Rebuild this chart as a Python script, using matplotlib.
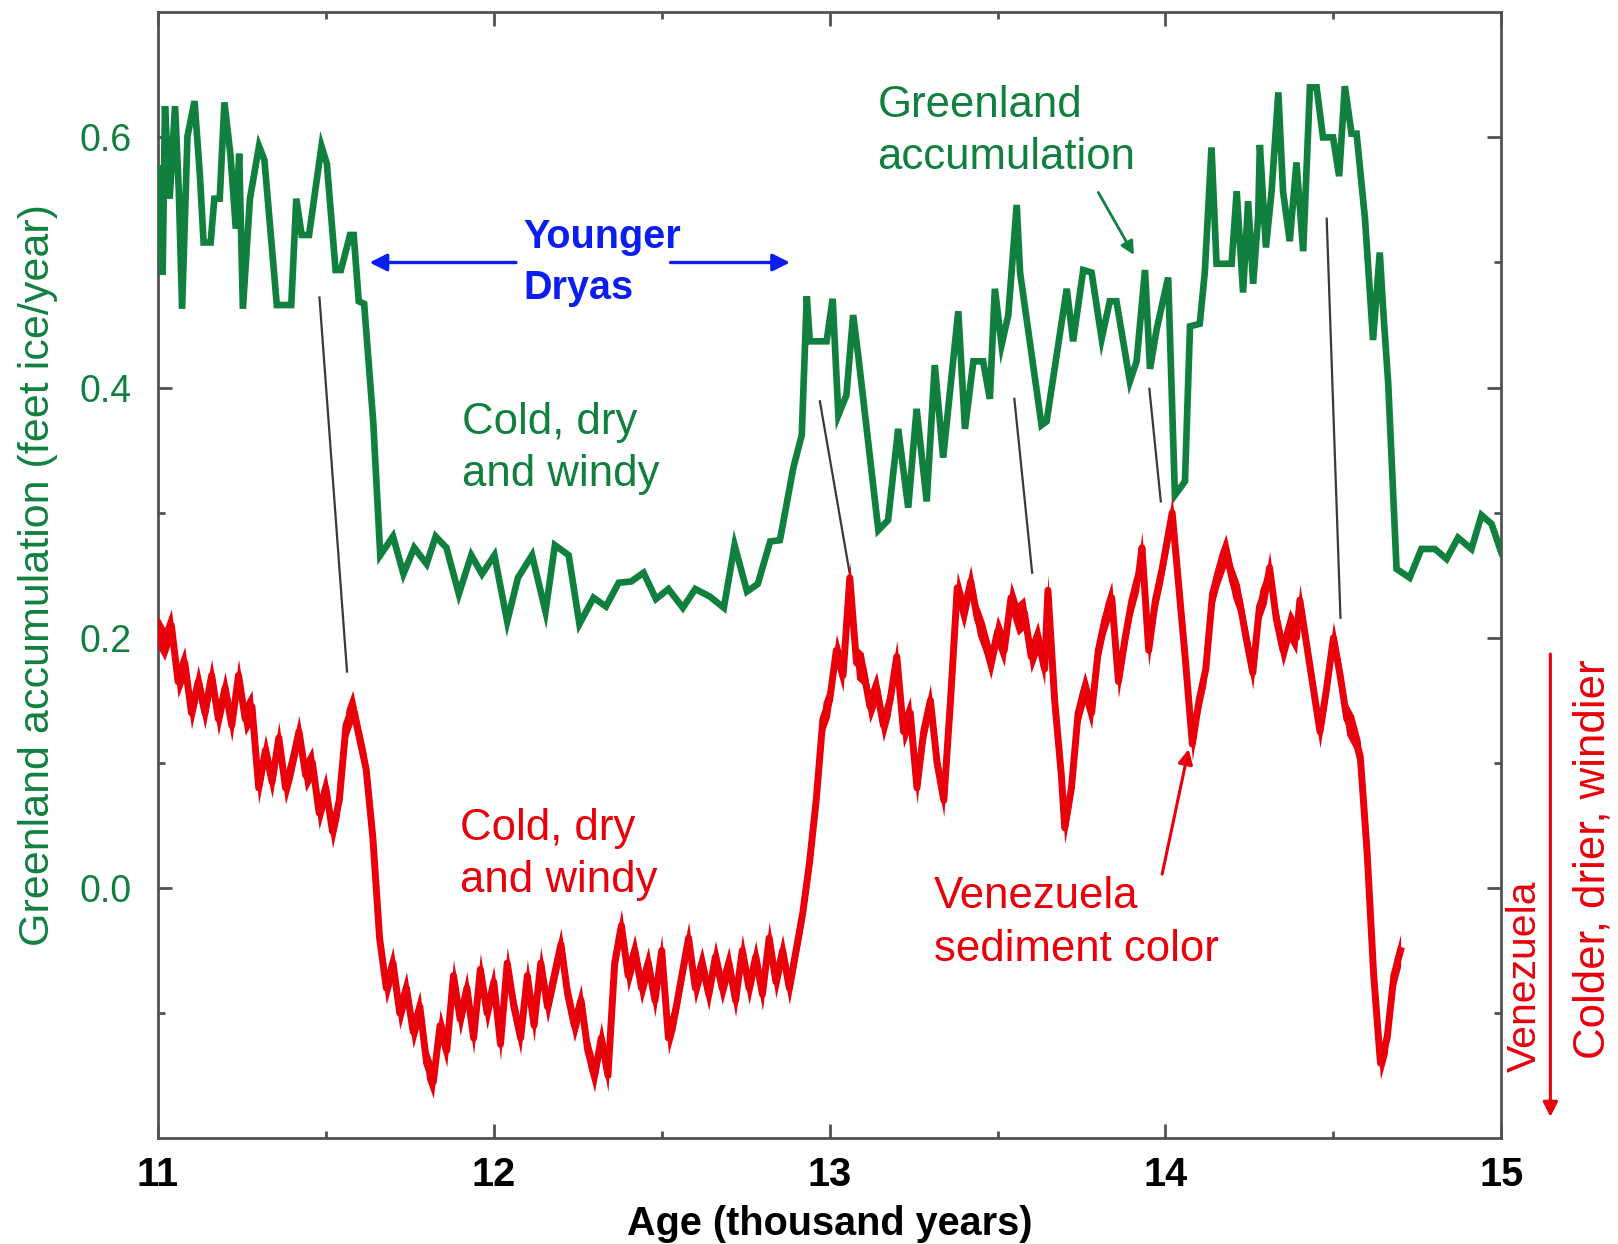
import matplotlib
matplotlib.use('Agg')
import matplotlib.pyplot as plt
import numpy as np

plt.rcParams['font.family'] = 'Liberation Sans'

# Greenland ice accumulation (feet ice/year) against age (kyr)
green_age = [11.000, 11.014, 11.021, 11.035, 11.051, 11.062, 11.072, 11.088, 11.109, 11.125,
             11.136, 11.157, 11.168, 11.184, 11.198, 11.216, 11.232, 11.242, 11.253, 11.274,
             11.301, 11.317, 11.354, 11.397, 11.412, 11.428, 11.450, 11.487, 11.503, 11.529,
             11.545, 11.572, 11.583, 11.598, 11.614, 11.641, 11.662, 11.700, 11.731, 11.763,
             11.800, 11.827, 11.859, 11.896, 11.933, 11.965, 12.002, 12.040, 12.072, 12.114,
             12.154, 12.182, 12.223, 12.255, 12.297, 12.334, 12.372, 12.409, 12.446, 12.483,
             12.520, 12.563, 12.600, 12.643, 12.685, 12.717, 12.754, 12.786, 12.823, 12.852,
             12.892, 12.917, 12.932, 12.941, 12.991, 13.009, 13.026, 13.050, 13.070, 13.085,
             13.145, 13.174, 13.204, 13.234, 13.259, 13.289, 13.313, 13.338, 13.383, 13.403,
             13.428, 13.457, 13.477, 13.492, 13.512, 13.532, 13.557, 13.567, 13.631, 13.646,
             13.706, 13.725, 13.755, 13.780, 13.810, 13.834, 13.854, 13.894, 13.914, 13.939,
             13.954, 13.974, 14.008, 14.028, 14.058, 14.073, 14.102, 14.117, 14.137, 14.152,
             14.197, 14.212, 14.231, 14.246, 14.261, 14.276, 14.281, 14.299, 14.316, 14.336,
             14.350, 14.370, 14.390, 14.410, 14.430, 14.450, 14.469, 14.499, 14.517, 14.534,
             14.554, 14.569, 14.594, 14.618, 14.638, 14.648, 14.663, 14.688, 14.727, 14.762,
             14.802, 14.837, 14.871, 14.911, 14.941, 14.971, 15.000]
green_acc = [0.575, 0.490, 0.625, 0.551, 0.625, 0.559, 0.463, 0.601, 0.629, 0.570,
             0.516, 0.516, 0.551, 0.551, 0.628, 0.586, 0.527, 0.587, 0.463, 0.551,
             0.593, 0.582, 0.466, 0.466, 0.551, 0.522, 0.522, 0.593, 0.579, 0.494,
             0.494, 0.522, 0.522, 0.469, 0.467, 0.373, 0.266, 0.281, 0.251, 0.272,
             0.259, 0.281, 0.272, 0.235, 0.266, 0.251, 0.266, 0.213, 0.248, 0.266,
             0.221, 0.274, 0.266, 0.211, 0.232, 0.225, 0.244, 0.245, 0.252, 0.231,
             0.239, 0.224, 0.239, 0.233, 0.224, 0.274, 0.237, 0.243, 0.277, 0.278,
             0.336, 0.362, 0.473, 0.437, 0.437, 0.471, 0.378, 0.394, 0.458, 0.426,
             0.286, 0.294, 0.367, 0.304, 0.383, 0.309, 0.418, 0.344, 0.461, 0.367,
             0.421, 0.421, 0.391, 0.479, 0.434, 0.458, 0.546, 0.492, 0.370, 0.373,
             0.479, 0.437, 0.494, 0.492, 0.439, 0.469, 0.469, 0.405, 0.421, 0.494,
             0.415, 0.447, 0.488, 0.314, 0.325, 0.449, 0.451, 0.492, 0.592, 0.499,
             0.499, 0.557, 0.476, 0.549, 0.483, 0.537, 0.594, 0.512, 0.557, 0.636,
             0.557, 0.517, 0.580, 0.509, 0.640, 0.640, 0.600, 0.600, 0.569, 0.641,
             0.603, 0.603, 0.535, 0.438, 0.508, 0.463, 0.404, 0.255, 0.248, 0.271,
             0.271, 0.263, 0.280, 0.271, 0.298, 0.291, 0.268]

# Venezuela sediment colour, scaled onto the same axis
ven_age = [11.00, 11.02, 11.04, 11.06, 11.08, 11.10, 11.12, 11.14, 11.16, 11.18,
           11.20, 11.22, 11.24, 11.26, 11.28, 11.30, 11.32, 11.34, 11.36, 11.38,
           11.40, 11.42, 11.44, 11.46, 11.48, 11.50, 11.52, 11.54, 11.56, 11.58,
           11.60, 11.62, 11.64, 11.66, 11.68, 11.70, 11.72, 11.74, 11.76, 11.78,
           11.80, 11.82, 11.84, 11.86, 11.88, 11.90, 11.92, 11.94, 11.96, 11.98,
           12.00, 12.02, 12.04, 12.06, 12.08, 12.10, 12.12, 12.14, 12.16, 12.18,
           12.20, 12.22, 12.24, 12.26, 12.28, 12.30, 12.32, 12.34, 12.36, 12.38,
           12.40, 12.42, 12.44, 12.46, 12.48, 12.50, 12.52, 12.54, 12.56, 12.58,
           12.60, 12.62, 12.64, 12.66, 12.68, 12.70, 12.72, 12.74, 12.76, 12.78,
           12.80, 12.82, 12.84, 12.86, 12.88, 12.90, 12.92, 12.94, 12.96, 12.98,
           13.00, 13.02, 13.04, 13.06, 13.08, 13.10, 13.12, 13.14, 13.16, 13.18,
           13.20, 13.22, 13.24, 13.26, 13.28, 13.30, 13.32, 13.34, 13.36, 13.38,
           13.40, 13.42, 13.44, 13.46, 13.48, 13.50, 13.52, 13.54, 13.56, 13.58,
           13.60, 13.62, 13.64, 13.65, 13.67, 13.69, 13.70, 13.72, 13.74, 13.76,
           13.78, 13.80, 13.82, 13.84, 13.86, 13.88, 13.90, 13.92, 13.93, 13.95,
           13.97, 13.99, 14.02, 14.04, 14.06, 14.08, 14.10, 14.12, 14.14, 14.16,
           14.18, 14.20, 14.22, 14.24, 14.26, 14.28, 14.30, 14.31, 14.33, 14.35,
           14.37, 14.39, 14.40, 14.42, 14.44, 14.46, 14.48, 14.50, 14.52, 14.54,
           14.56, 14.58, 14.60, 14.62, 14.64, 14.66, 14.68, 14.70]
ven_col = [0.205, 0.195, 0.210, 0.165, 0.180, 0.140, 0.165, 0.140, 0.170, 0.135,
           0.160, 0.130, 0.170, 0.135, 0.145, 0.080, 0.110, 0.085, 0.120, 0.080,
           0.100, 0.125, 0.090, 0.100, 0.060, 0.080, 0.045, 0.070, 0.130, 0.145,
           0.120, 0.095, 0.040, -0.040, -0.080, -0.060, -0.100, -0.080, -0.115, -0.095,
           -0.140, -0.155, -0.110, -0.130, -0.070, -0.105, -0.080, -0.120, -0.065, -0.100,
           -0.075, -0.125, -0.060, -0.095, -0.120, -0.070, -0.110, -0.060, -0.095, -0.070,
           -0.045, -0.085, -0.110, -0.090, -0.130, -0.150, -0.120, -0.150, -0.060, -0.030,
           -0.070, -0.050, -0.080, -0.060, -0.090, -0.050, -0.120, -0.100, -0.070, -0.040,
           -0.080, -0.060, -0.085, -0.055, -0.080, -0.060, -0.090, -0.050, -0.080, -0.055,
           -0.085, -0.040, -0.075, -0.050, -0.080, -0.050, -0.020, 0.020, 0.070, 0.135,
           0.150, 0.190, 0.170, 0.248, 0.180, 0.175, 0.145, 0.160, 0.130, 0.150,
           0.185, 0.125, 0.140, 0.080, 0.125, 0.150, 0.100, 0.070, 0.150, 0.240,
           0.220, 0.245, 0.215, 0.200, 0.180, 0.205, 0.190, 0.232, 0.215, 0.220,
           0.185, 0.200, 0.175, 0.238, 0.150, 0.090, 0.048, 0.080, 0.140, 0.160,
           0.140, 0.190, 0.215, 0.232, 0.165, 0.200, 0.230, 0.250, 0.272, 0.190,
           0.230, 0.255, 0.300, 0.240, 0.180, 0.115, 0.150, 0.175, 0.235, 0.255,
           0.270, 0.245, 0.230, 0.200, 0.172, 0.225, 0.240, 0.256, 0.215, 0.190,
           0.210, 0.200, 0.230, 0.195, 0.160, 0.125, 0.160, 0.200, 0.170, 0.135,
           0.125, 0.105, 0.030, -0.070, -0.140, -0.120, -0.070, -0.050]
# half width of the high-frequency scatter around the colour curve
ven_spread = 0.013

# lines tying matching events in the two records: (age, value) pairs
ties = [((11.481, 0.472), (11.563, 0.173)),
        ((12.971, 0.389), (13.060, 0.251)),
        ((13.550, 0.391), (13.603, 0.252)),
        ((13.952, 0.399), (13.986, 0.309)),
        ((14.480, 0.535), (14.521, 0.216))]

GREEN = '#11803f'
RED = '#e8000b'
BLUE = '#0a1ef0'
AXC = '#555055'

fig = plt.figure(figsize=(16.18, 12.44), dpi=100)
ax = fig.add_axes([0.0976, 0.0851, 0.8303, 0.9050])

ax.plot(green_age, green_acc, color=GREEN, lw=4.8, solid_joinstyle='miter', zorder=3)
vc = np.array(ven_col)
ax.fill_between(ven_age, vc - ven_spread, vc + ven_spread, color=RED, lw=0, zorder=3)
ax.plot(ven_age, ven_col, color=RED, lw=5.0, solid_joinstyle='round', zorder=3)
for (x0, y0), (x1, y1) in ties:
    ax.plot([x0, x1], [y0, y1], color='#3c3838', lw=1.6, zorder=2)

ax.set_xlim(11, 15)
ax.set_ylim(-0.2, 0.7)
ax.set_xticks([11, 12, 13, 14, 15])
ax.set_xticks([11.5, 12.5, 13.5, 14.5], minor=True)
ax.set_yticks([0.0, 0.2, 0.4, 0.6])
ax.set_yticklabels(['0.0', '0.2', '0.4', '0.6'])
ax.set_yticks([-0.1, 0.1, 0.3, 0.5], minor=True)

for s in ax.spines.values():
    s.set_color(AXC)
    s.set_linewidth(2)
ax.tick_params(which='both', direction='in', top=True, right=True, color=AXC, width=2)
ax.tick_params(which='major', length=10)
ax.tick_params(which='minor', length=5)
ax.tick_params(axis='y', labelcolor=GREEN, labelsize=27, pad=19)
ax.tick_params(axis='x', labelcolor='black', labelsize=28.5, pad=13)
for lab in ax.get_xticklabels():
    lab.set_fontweight('bold')

ax.set_xlabel('Age (thousand years)', fontsize=28.5, fontweight='bold', labelpad=7.5)
ax.set_ylabel('Greenland accumulation (feet ice/year)', fontsize=31, color=GREEN)
ax.yaxis.set_label_coords(-0.0747, 0.5)

# annotations inside the plot
ax.text(12.087, 0.50, 'Younger\nDryas', color=BLUE, fontsize=28.5, fontweight='bold',
        ha='left', va='center', linespacing=1.45)
ax.annotate('', xy=(11.630, 0.500), xytext=(12.066, 0.500),
            arrowprops=dict(arrowstyle='-|>', color=BLUE, lw=2.4, mutation_scale=26,
                            shrinkA=0, shrinkB=0))
ax.annotate('', xy=(12.882, 0.500), xytext=(12.526, 0.500),
            arrowprops=dict(arrowstyle='-|>', color=BLUE, lw=2.4, mutation_scale=26,
                            shrinkA=0, shrinkB=0))

ax.text(13.142, 0.605, 'Greenland\naccumulation', color=GREEN, fontsize=31.5,
        ha='left', va='center', linespacing=1.35)
ax.annotate('', xy=(13.906, 0.506), xytext=(13.800, 0.556),
            arrowprops=dict(arrowstyle='-|>', color=GREEN, lw=2, mutation_scale=20,
                            shrinkA=0, shrinkB=0))

ax.text(11.906, 0.351, 'Cold, dry\nand windy', color=GREEN, fontsize=31.5,
        ha='left', va='center', linespacing=1.35)
ax.text(11.900, 0.0265, 'Cold, dry\nand windy', color=RED, fontsize=31.5,
        ha='left', va='center', linespacing=1.35)

ax.text(13.31, -0.028, 'Venezuela\nsediment color', color=RED, fontsize=31.5,
        ha='left', va='center', linespacing=1.35)
ax.annotate('', xy=(14.069, 0.111), xytext=(13.990, 0.011),
            arrowprops=dict(arrowstyle='-|>', color=RED, lw=2.2, mutation_scale=22,
                            shrinkA=0, shrinkB=0))

# right-hand scale note for the Venezuela record
ax.annotate('', xy=(15.146, -0.183), xytext=(15.146, 0.187),
            xycoords='data', annotation_clip=False,
            arrowprops=dict(arrowstyle='-|>', color=RED, lw=2.2, mutation_scale=22,
                            shrinkA=0, shrinkB=0))
ax.text(15.103, -0.0705, 'Venezuela', color=RED, fontsize=29.5, rotation=90,
        rotation_mode='anchor', ha='center', va='baseline', clip_on=False)
ax.text(15.308, 0.0227, 'Colder, drier, windier', color=RED, fontsize=31.5, rotation=90,
        rotation_mode='anchor', ha='center', va='baseline', clip_on=False)

fig.savefig('out.png', dpi=100)
